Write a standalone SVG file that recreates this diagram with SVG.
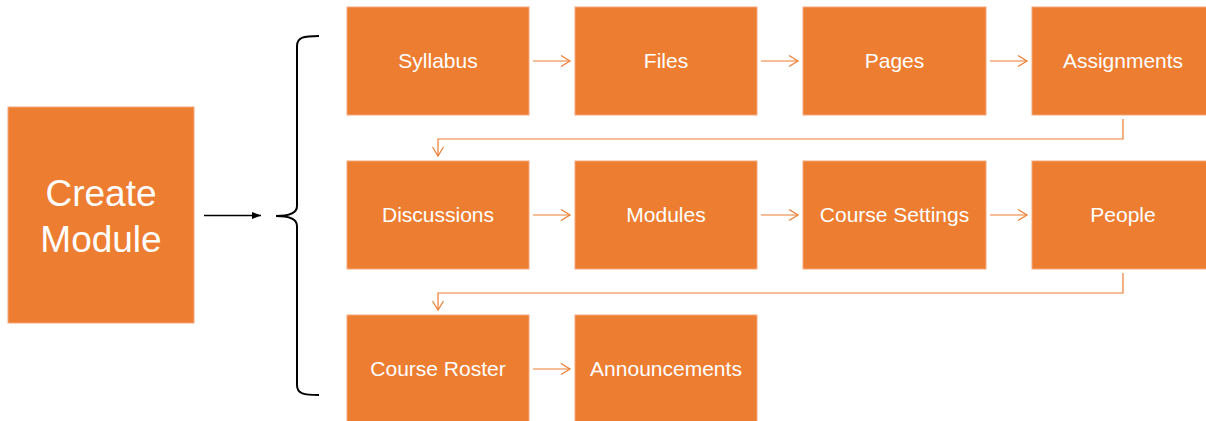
<svg xmlns="http://www.w3.org/2000/svg" width="1206" height="421" viewBox="0 0 1206 421">
<defs>
<style>
.box{fill:#ED7D31;stroke:#F4A77A;stroke-width:1}
.lbl{font-family:"Liberation Sans",Arial,sans-serif;font-size:21px;fill:#FFFFFF;text-anchor:middle}
.big{font-family:"Liberation Sans",Arial,sans-serif;font-size:37px;fill:#FFFFFF;text-anchor:middle}
.con{fill:none;stroke:#ED7D31;stroke-width:1.2}
</style>
<marker id="open" markerWidth="12" markerHeight="12" refX="10" refY="6" orient="auto" markerUnits="userSpaceOnUse">
<path d="M1,0.5 L10,6 L1,11.5" fill="none" stroke="#ED7D31" stroke-width="1.2"/>
</marker>
<marker id="solid" markerWidth="10" markerHeight="10" refX="9" refY="5" orient="auto" markerUnits="userSpaceOnUse">
<path d="M0,1.5 L9,5 L0,8.5 Z" fill="#000000"/>
</marker>
</defs>
<rect width="1206" height="421" fill="#FFFFFF"/>

<g id="create-module">
<rect class="box" x="8" y="107" width="186" height="216"/>
<text class="big" x="101" y="206">Create</text>
<text class="big" x="101" y="252">Module</text>
</g>

<g id="brace">
<path d="M319,36 C304,36 297,37 297,46 L297,206 C297,213 290,216 276,216 C290,216 297,219 297,226 L297,385 C297,394 304,395 319,395" fill="none" stroke="#000000" stroke-width="2"/>
</g>

<g id="syllabus"><rect class="box" x="347" y="7" width="182" height="108"/><text class="lbl" x="438" y="68">Syllabus</text></g>
<g id="files"><rect class="box" x="575" y="7" width="182" height="108"/><text class="lbl" x="666" y="68">Files</text></g>
<g id="pages"><rect class="box" x="803" y="7" width="183" height="108"/><text class="lbl" x="894.5" y="68">Pages</text></g>
<g id="assignments"><rect class="box" x="1032" y="7" width="182" height="108"/><text class="lbl" x="1123" y="68">Assignments</text></g>

<g id="discussions"><rect class="box" x="347" y="161" width="182" height="108"/><text class="lbl" x="438" y="222">Discussions</text></g>
<g id="modules"><rect class="box" x="575" y="161" width="182" height="108"/><text class="lbl" x="666" y="222">Modules</text></g>
<g id="course-settings"><rect class="box" x="803" y="161" width="183" height="108"/><text class="lbl" x="894.5" y="222">Course Settings</text></g>
<g id="people"><rect class="box" x="1032" y="161" width="182" height="108"/><text class="lbl" x="1123" y="222">People</text></g>

<g id="course-roster"><rect class="box" x="347" y="315" width="182" height="108"/><text class="lbl" x="438" y="376">Course Roster</text></g>
<g id="announcements"><rect class="box" x="575" y="315" width="182" height="108"/><text class="lbl" x="666" y="376">Announcements</text></g>

<g id="connectors">
<line x1="204" y1="215.5" x2="261" y2="215.5" stroke="#000000" stroke-width="1.5" marker-end="url(#solid)"/>
<line class="con" x1="533" y1="61" x2="570" y2="61" marker-end="url(#open)"/>
<line class="con" x1="761" y1="61" x2="798" y2="61" marker-end="url(#open)"/>
<line class="con" x1="990" y1="61" x2="1027" y2="61" marker-end="url(#open)"/>
<path class="con" d="M1123,119 L1123,139 L438,139 L438,156" marker-end="url(#open)"/>
<line class="con" x1="533" y1="215" x2="570" y2="215" marker-end="url(#open)"/>
<line class="con" x1="761" y1="215" x2="798" y2="215" marker-end="url(#open)"/>
<line class="con" x1="990" y1="215" x2="1027" y2="215" marker-end="url(#open)"/>
<path class="con" d="M1123,273 L1123,293 L438,293 L438,310" marker-end="url(#open)"/>
<line class="con" x1="533" y1="369" x2="570" y2="369" marker-end="url(#open)"/>
</g>
</svg>
